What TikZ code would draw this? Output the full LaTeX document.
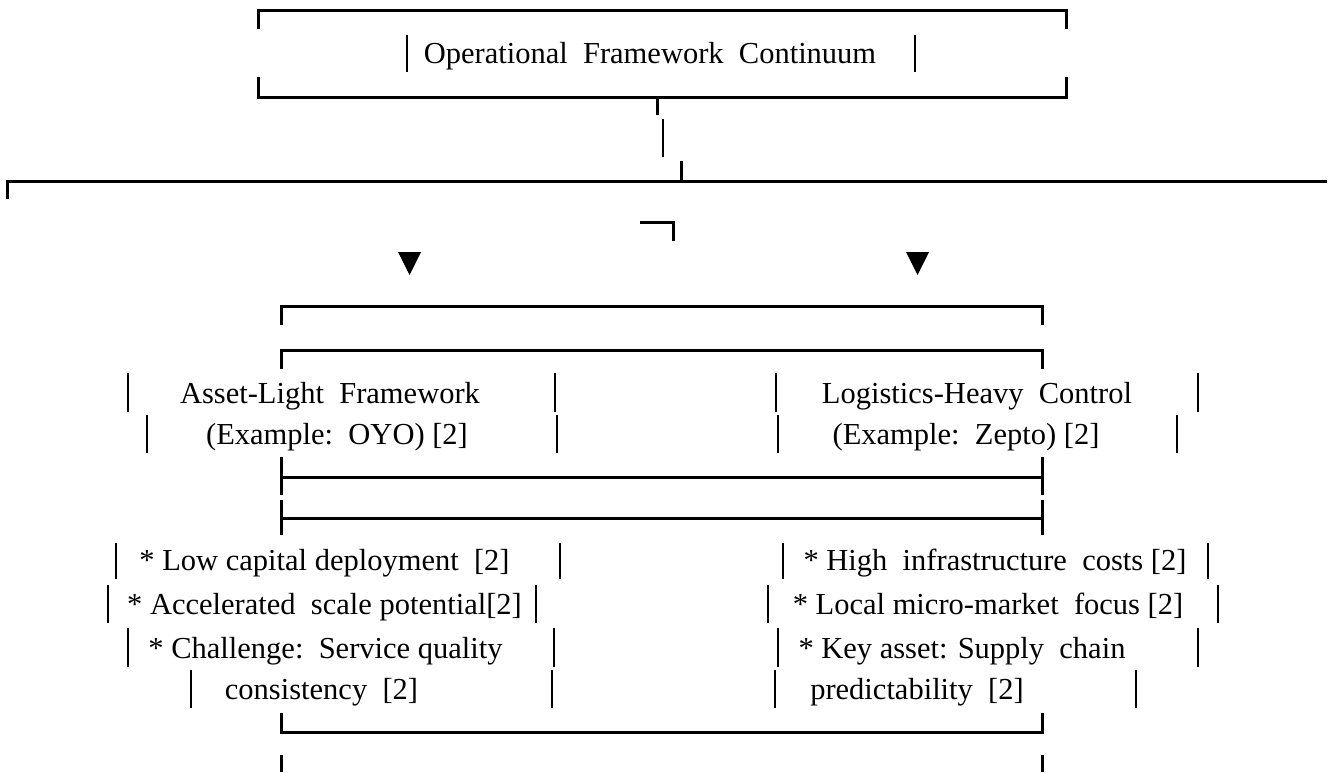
\documentclass[tikz,border=0pt]{standalone}
\usepackage{fontspec}
\setmainfont{Liberation Serif}
\newcommand{\vbarline}[3]{\draw[barln] (#1,#2) -- (#1,#3);}
\begin{document}
\begin{tikzpicture}[x=1pt,y=-1pt,
  ln/.style={line width=3pt, line join=miter},
  barln/.style={line width=2.4pt},
  txt/.style={anchor=base, inner sep=0pt, font=\fontsize{30.5}{36}\selectfont},
  tri/.style={fill=black}]
\useasboundingbox (0,0) rectangle (1330,772);
% top box
\draw[ln] (258,29) -- (258,10) -- (1066,10) -- (1066,29);
\draw[ln] (258,77) -- (258,97) -- (1066,97) -- (1066,77);
\vbarline{407}{35}{72}
\vbarline{915}{35}{72}
\node[txt] (title) at (650,63) {Operational\ \ Framework\ \ Continuum};
% connectors
\draw[ln] (657,97) -- (657,115);
\vbarline{663}{119}{157}
\draw[ln] (7,199) -- (7,181) -- (1327,181);
\draw[ln] (681,161) -- (681,181);
\draw[ln] (640,222) -- (673,222) -- (673,241);
\fill[tri] (398,252) -- (421,252) -- (409.5,275) -- cycle;
\fill[tri] (906,252) -- (929,252) -- (917.5,275) -- cycle;
% lower box
\draw[ln] (281,325) -- (281,306) -- (1042,306) -- (1042,325);
\draw[ln] (281,369) -- (281,350) -- (1042,350) -- (1042,369);
\draw[ln] (281,457) -- (281,495);
\draw[ln] (1042,457) -- (1042,495);
\draw[ln] (281,477) -- (1042,477);
\draw[ln] (281,500) -- (281,535);
\draw[ln] (1042,500) -- (1042,535);
\draw[ln] (281,518) -- (1042,518);
\draw[ln] (281,713) -- (281,732) -- (1042,732) -- (1042,713);
\draw[ln] (281,755) -- (281,772);
\draw[ln] (1042,755) -- (1042,772);
% header rows
\vbarline{128}{373}{412}
\vbarline{555}{373}{412}
\vbarline{776}{373}{412}
\vbarline{1198}{373}{412}
\node[txt] (hl1) at (330,403) {Asset-Light\ \ Framework};
\node[txt] (hr1) at (977,403) {Logistics-Heavy\ \ Control};
\vbarline{147}{415}{453}
\vbarline{557}{415}{453}
\vbarline{778}{415}{453}
\vbarline{1177}{415}{453}
\node[txt] (hl2) at (337,444) {(Example:\ \ OYO) [2]};
\node[txt] (hr2) at (966,444) {(Example:\ \ Zepto) [2]};
% bullet rows
\vbarline{116}{543}{579}
\vbarline{560}{543}{579}
\vbarline{783}{543}{579}
\vbarline{1208}{543}{579}
\node[txt] (bl1) at (324.5,570) {* Low capital deployment\ \ [2]};
\node[txt] (br1) at (995,570) {* High\ \ infrastructure\ \ costs [2]};
\vbarline{108}{585}{623}
\vbarline{536}{585}{623}
\vbarline{768}{585}{623}
\vbarline{1218}{585}{623}
\node[txt] (bl2) at (324.5,614) {* Accelerated\ \ scale potential[2]};
\node[txt] (br2) at (988,614) {* Local micro-market\ \ focus [2]};
\vbarline{128}{628}{667}
\vbarline{554}{628}{667}
\vbarline{778}{628}{667}
\vbarline{1198}{628}{667}
\node[txt] (bl3) at (325.5,658) {* Challenge:\ \ Service quality};
\node[txt] (br3) at (962,658) {* Key asset: Supply\ \ chain};
\vbarline{191}{670}{708}
\vbarline{552}{670}{708}
\vbarline{775}{670}{708}
\vbarline{1136}{670}{708}
\node[txt] (bl4) at (321.5,699) {consistency\ \ [2]};
\node[txt] (br4) at (917,699) {predictability\ \ [2]};
\end{tikzpicture}
\end{document}
